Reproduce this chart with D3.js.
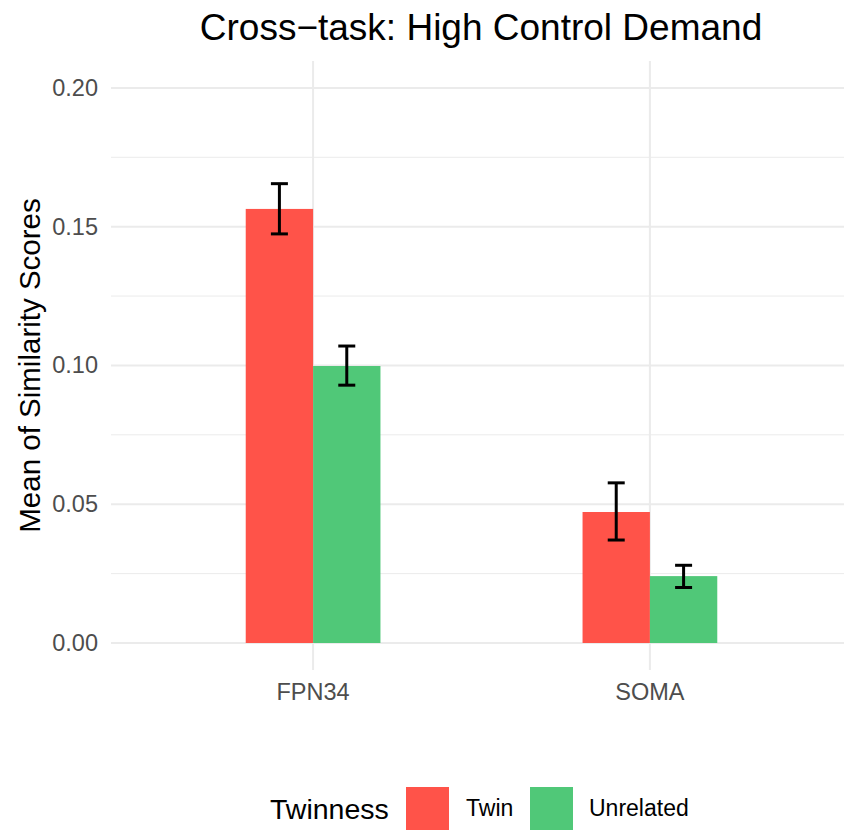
<!DOCTYPE html>
<html>
<head>
<meta charset="utf-8">
<script src="https://cdn.jsdelivr.net/npm/d3@7"></script>
<style>
  body { margin: 0; background: #fff; }
  text { font-family: "Liberation Sans", Arial, sans-serif; }
</style>
</head>
<body>
<svg id="chart" width="844" height="833"></svg>
<script>
// data
var regions = ["FPN34", "SOMA"];
var groups = ["Twin", "Unrelated"];
var groupColors = ["#FF5349", "#50C878"];
var twinMean = [0.1564, 0.0472];
var twinLow = [0.1474, 0.0371];
var twinHigh = [0.1655, 0.0577];
var unrelMean = [0.0998, 0.0241];
var unrelLow = [0.0929, 0.0200];
var unrelHigh = [0.1070, 0.0280];
var yTicks = [0, 0.05, 0.10, 0.15, 0.20];
var yMinor = [0.025, 0.075, 0.125, 0.175];

var rows = [];
regions.forEach(function(r, i) {
  rows.push({region: r, idx: i + 1, group: "Twin", g: 0, mean: twinMean[i], lo: twinLow[i], hi: twinHigh[i]});
  rows.push({region: r, idx: i + 1, group: "Unrelated", g: 1, mean: unrelMean[i], lo: unrelLow[i], hi: unrelHigh[i]});
});

var svg = d3.select("#chart");
var panel = {left: 111, right: 852, top: 61, bottom: 670};

var x = d3.scaleLinear().domain([0.4, 2.6]).range([panel.left, panel.right]);
var y = d3.scaleLinear().domain([-0.00973, 0.2097]).range([panel.bottom, panel.top]);
var color = d3.scaleOrdinal().domain(groups).range(groupColors);

var barW = 0.4;   // total dodge width in category units
var grid = svg.append("g");

// minor grid
grid.selectAll("line.minor").data(yMinor).enter().append("line")
  .attr("x1", panel.left).attr("x2", panel.right)
  .attr("y1", function(d) { return y(d); }).attr("y2", function(d) { return y(d); })
  .attr("stroke", "#EBEBEB").attr("stroke-width", 1);

// major grid
grid.selectAll("line.major").data(yTicks).enter().append("line")
  .attr("x1", panel.left).attr("x2", panel.right)
  .attr("y1", function(d) { return y(d); }).attr("y2", function(d) { return y(d); })
  .attr("stroke", "#EBEBEB").attr("stroke-width", 2);

grid.selectAll("line.vert").data(regions).enter().append("line")
  .attr("x1", function(d, i) { return x(i + 1); }).attr("x2", function(d, i) { return x(i + 1); })
  .attr("y1", panel.top).attr("y2", panel.bottom)
  .attr("stroke", "#EBEBEB").attr("stroke-width", 2);

// bars
svg.append("g").selectAll("rect").data(rows).enter().append("rect")
  .attr("x", function(d) { return x(d.idx - barW / 2 + d.g * barW / 2); })
  .attr("width", x(barW / 2) - x(0))
  .attr("y", function(d) { return y(d.mean); })
  .attr("height", function(d) { return y(0) - y(d.mean); })
  .attr("fill", function(d) { return color(d.group); });

// error bars
var capHalf = 8.5;
var eb = svg.append("g").selectAll("g").data(rows).enter().append("g")
  .attr("stroke", "#000").attr("stroke-width", 3);
function cx(d) { return x(d.idx - barW / 4 + d.g * barW / 2); }
eb.append("line")
  .attr("x1", cx).attr("x2", cx)
  .attr("y1", function(d) { return y(d.lo); }).attr("y2", function(d) { return y(d.hi); });
eb.append("line")
  .attr("x1", function(d) { return cx(d) - capHalf; }).attr("x2", function(d) { return cx(d) + capHalf; })
  .attr("y1", function(d) { return y(d.hi); }).attr("y2", function(d) { return y(d.hi); });
eb.append("line")
  .attr("x1", function(d) { return cx(d) - capHalf; }).attr("x2", function(d) { return cx(d) + capHalf; })
  .attr("y1", function(d) { return y(d.lo); }).attr("y2", function(d) { return y(d.lo); });

// axes labels
svg.append("g").selectAll("text").data(yTicks).enter().append("text")
  .attr("x", 98).attr("y", function(d) { return y(d) + 8; })
  .attr("text-anchor", "end").attr("font-size", 23.5).attr("fill", "#4D4D4D")
  .text(function(d) { return d3.format(".2f")(d); });

svg.append("g").selectAll("text").data(regions).enter().append("text")
  .attr("x", function(d, i) { return x(i + 1); }).attr("y", 700)
  .attr("text-anchor", "middle").attr("font-size", 23.5).attr("fill", "#4D4D4D")
  .text(function(d) { return d; });

svg.append("text")
  .attr("transform", "translate(40," + ((panel.top + panel.bottom) / 2) + ") rotate(-90)")
  .attr("text-anchor", "middle").attr("font-size", 29.5).attr("fill", "#000")
  .text("Mean of Similarity Scores");

svg.append("text")
  .attr("x", 481).attr("y", 40)
  .attr("text-anchor", "middle").attr("font-size", 37).attr("fill", "#000")
  .text("Cross\u2212task: High Control Demand");

// legend
var legend = svg.append("g");
legend.append("text").attr("x", 270).attr("y", 819)
  .attr("font-size", 28.5).attr("fill", "#000").text("Twinness");
var keyX = [406, 530];
var labX = [466, 589];
groups.forEach(function(g, i) {
  legend.append("rect").attr("x", keyX[i]).attr("y", 787).attr("width", 43).attr("height", 43)
    .attr("fill", color(g));
  legend.append("text").attr("x", labX[i]).attr("y", 816)
    .attr("font-size", 23).attr("fill", "#000").text(g);
});
</script>
</body>
</html>
